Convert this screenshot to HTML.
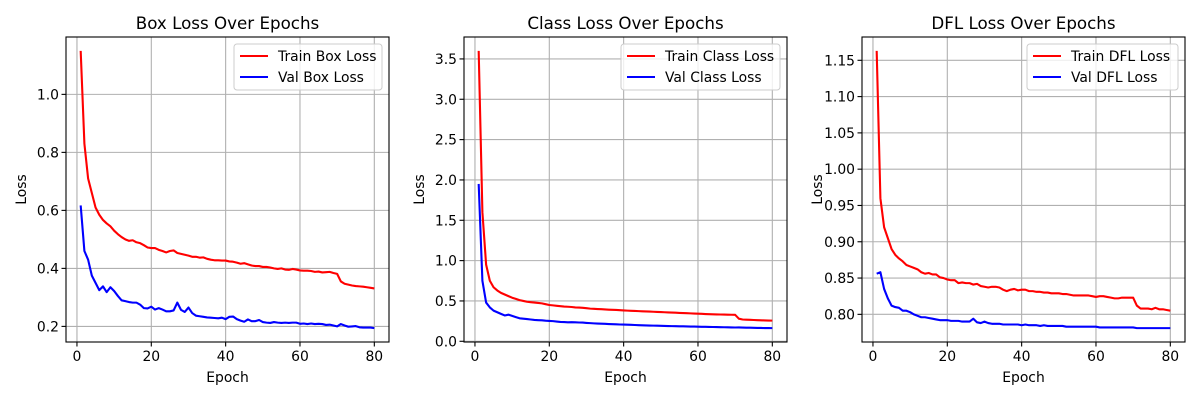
<!DOCTYPE html>
<html><head><meta charset="utf-8"><style>
html,body{margin:0;padding:0;background:#fff;}
svg{display:block;font-family:"DejaVu Sans","Liberation Sans",sans-serif;}
</style></head><body>
<svg id="fig" width="1200" height="400" xmlns="http://www.w3.org/2000/svg"></svg>
<script>
const epochs = Array.from({length:80},(_,i)=>i+1);
const boxTrain = [1.15,0.83,0.71,0.66,0.61,0.585,0.567,0.555,0.545,0.53,0.518,0.508,0.5,0.495,0.497,0.49,0.487,0.48,0.472,0.47,0.47,0.464,0.46,0.455,0.46,0.462,0.453,0.45,0.447,0.444,0.44,0.44,0.437,0.438,0.433,0.43,0.428,0.428,0.427,0.427,0.424,0.423,0.42,0.416,0.418,0.414,0.41,0.408,0.408,0.405,0.405,0.403,0.4,0.398,0.4,0.396,0.395,0.398,0.396,0.393,0.392,0.392,0.391,0.388,0.389,0.386,0.387,0.388,0.384,0.381,0.355,0.347,0.344,0.341,0.339,0.338,0.337,0.335,0.333,0.331];
const boxVal = [0.617,0.46,0.43,0.375,0.35,0.325,0.338,0.318,0.335,0.322,0.305,0.29,0.287,0.284,0.282,0.282,0.275,0.263,0.262,0.268,0.258,0.263,0.258,0.252,0.252,0.255,0.282,0.257,0.25,0.265,0.246,0.237,0.235,0.233,0.231,0.23,0.229,0.228,0.23,0.225,0.233,0.234,0.225,0.22,0.216,0.224,0.218,0.218,0.222,0.215,0.213,0.212,0.215,0.213,0.212,0.213,0.212,0.213,0.213,0.209,0.21,0.208,0.21,0.208,0.209,0.208,0.205,0.206,0.203,0.2,0.208,0.203,0.199,0.2,0.201,0.197,0.196,0.196,0.196,0.194];
const clsTrain = [3.6,1.6,0.95,0.75,0.67,0.63,0.6,0.58,0.56,0.54,0.525,0.51,0.5,0.49,0.485,0.48,0.475,0.47,0.46,0.45,0.445,0.44,0.435,0.43,0.428,0.425,0.42,0.418,0.415,0.41,0.405,0.403,0.4,0.398,0.395,0.392,0.39,0.388,0.385,0.382,0.38,0.378,0.376,0.374,0.372,0.37,0.368,0.366,0.364,0.362,0.36,0.358,0.356,0.354,0.352,0.35,0.348,0.346,0.344,0.342,0.34,0.338,0.336,0.334,0.333,0.332,0.331,0.33,0.329,0.328,0.28,0.27,0.268,0.266,0.264,0.262,0.26,0.258,0.257,0.256];
const clsVal = [1.95,0.75,0.48,0.42,0.38,0.36,0.34,0.32,0.33,0.315,0.3,0.285,0.28,0.275,0.27,0.265,0.262,0.26,0.255,0.252,0.25,0.245,0.24,0.238,0.235,0.237,0.235,0.233,0.232,0.228,0.225,0.222,0.22,0.218,0.216,0.214,0.212,0.21,0.208,0.207,0.206,0.204,0.202,0.2,0.198,0.196,0.195,0.194,0.193,0.192,0.19,0.189,0.188,0.187,0.186,0.185,0.184,0.183,0.182,0.181,0.18,0.179,0.178,0.177,0.176,0.175,0.174,0.173,0.172,0.171,0.172,0.17,0.169,0.168,0.167,0.166,0.165,0.164,0.164,0.163];
const dflTrain = [1.163,0.96,0.92,0.905,0.89,0.882,0.877,0.873,0.868,0.866,0.864,0.862,0.858,0.856,0.857,0.855,0.855,0.851,0.85,0.848,0.847,0.847,0.843,0.844,0.843,0.843,0.841,0.842,0.839,0.838,0.837,0.838,0.838,0.837,0.834,0.832,0.834,0.835,0.833,0.834,0.834,0.832,0.832,0.831,0.831,0.83,0.83,0.829,0.829,0.829,0.828,0.828,0.827,0.826,0.826,0.826,0.826,0.826,0.825,0.824,0.825,0.825,0.824,0.823,0.822,0.822,0.823,0.823,0.823,0.823,0.812,0.808,0.808,0.808,0.807,0.809,0.807,0.807,0.806,0.805];
const dflVal = [0.856,0.858,0.835,0.822,0.812,0.81,0.809,0.805,0.805,0.803,0.8,0.798,0.796,0.796,0.795,0.794,0.793,0.792,0.792,0.792,0.791,0.791,0.791,0.79,0.79,0.79,0.794,0.789,0.788,0.79,0.788,0.787,0.787,0.787,0.786,0.786,0.786,0.786,0.786,0.785,0.786,0.785,0.785,0.785,0.784,0.785,0.784,0.784,0.784,0.784,0.784,0.783,0.783,0.783,0.783,0.783,0.783,0.783,0.783,0.783,0.782,0.782,0.782,0.782,0.782,0.782,0.782,0.782,0.782,0.782,0.781,0.781,0.781,0.781,0.781,0.781,0.781,0.781,0.781,0.781];
const xTicks = [0,20,40,60,80];
const boxTicks = ["0.2","0.4","0.6","0.8","1.0"];
const clsTicks = ["0.0","0.5","1.0","1.5","2.0","2.5","3.0","3.5"];
const dflTicks = ["0.80","0.85","0.90","0.95","1.00","1.05","1.10","1.15"];

const NS="http://www.w3.org/2000/svg";
const svg=document.getElementById('fig');
function mk(tag,attrs,parent){const e=document.createElementNS(NS,tag);for(const k in attrs)e.setAttribute(k,attrs[k]);(parent||svg).appendChild(e);return e;}

function panel(key,box,title,train,val,yTicks,trainLbl,valLbl,legendW){
  const [L,T,R,B]=box;
  const g=mk('g',{});
  
  
  const xmin=1-0.05*79, xmax=80+0.05*79;
  const all=train.concat(val);
  const dmin=Math.min(...all), dmax=Math.max(...all), pad=0.05*(dmax-dmin);
  const ymin=dmin-pad, ymax=dmax+pad;
  const sx=v=>L+(v-xmin)/(xmax-xmin)*(R-L);
  const sy=v=>B-(v-ymin)/(ymax-ymin)*(B-T);
  xTicks.forEach(t=>{
    const x=sx(t);
    const gl=mk('line',{x1:x,x2:x,y1:T,y2:B,stroke:'#b0b0b0','stroke-width':1.1},g);
    
    
    mk('line',{x1:x,x2:x,y1:B,y2:B+4.5,stroke:'#000','stroke-width':1.1},g);
    const tx=mk('text',{x:x,y:B+19,'font-size':'13.9px','text-anchor':'middle'},g);
    tx.textContent=t;
    
    
  });
  yTicks.forEach(t=>{
    const y=sy(parseFloat(t));
    const gl=mk('line',{x1:L,x2:R,y1:y,y2:y,stroke:'#b0b0b0','stroke-width':1.1},g);
    
    
    mk('line',{x1:L-4.5,x2:L,y1:y,y2:y,stroke:'#000','stroke-width':1.1},g);
    const tx=mk('text',{x:L-7,y:y+5,'font-size':'13.9px','text-anchor':'end'},g);
    tx.textContent=t;
    
    
  });
  const line=(arr,color,name)=>{
    const p=mk('polyline',{points:arr.map((v,i)=>sx(epochs[i])+','+sy(v)).join(' '),fill:'none',stroke:color,'stroke-width':2.1,'stroke-linejoin':'round'},g);
    
    
  };
  line(train,'#ff0000',key+'-train-line');
  line(val,'#0000ff',key+'-val-line');
  const fr=mk('rect',{x:L,y:T,width:R-L,height:B-T,fill:'none',stroke:'#000','stroke-width':1.1},g);
  
  
  const tt=mk('text',{x:(L+R)/2,y:T-8,'font-size':'16.7px','text-anchor':'middle'},g);
  tt.textContent=title;
  
  
  const xl=mk('text',{x:(L+R)/2,y:B+40,'font-size':'13.9px','text-anchor':'middle'},g);
  xl.textContent='Epoch';
  
  
  const yx=L-40, yy=(T+B)/2;
  const yl=mk('text',{x:yx,y:yy,'font-size':'13.9px','text-anchor':'middle',transform:'rotate(-90 '+yx+' '+yy+')'},g);
  yl.textContent='Loss';
  
  
  const lx=R-7-legendW, ly=T+7;
  const lg=mk('g',{},g);
  
  
  mk('rect',{x:lx,y:ly,width:legendW,height:46,rx:3,fill:'#fff','fill-opacity':0.8,stroke:'#cccccc','stroke-width':1},lg);
  [[trainLbl,'#ff0000'],[valLbl,'#0000ff']].forEach((e,i)=>{
    const y=ly+12+i*21;
    mk('line',{x1:lx+6,x2:lx+34,y1:y,y2:y,stroke:e[1],'stroke-width':2.1},lg);
    const t=mk('text',{x:lx+44,y:y+5,'font-size':'13.9px'},lg);
    t.textContent=e[0];
    
    
  });
}
panel('box',[66,37,389,342],'Box Loss Over Epochs',boxTrain,boxVal,boxTicks,'Train Box Loss','Val Box Loss',148);
panel('class',[464,37,787,342],'Class Loss Over Epochs',clsTrain,clsVal,clsTicks,'Train Class Loss','Val Class Loss',159);
panel('dfl',[862,37,1185,342],'DFL Loss Over Epochs',dflTrain,dflVal,dflTicks,'Train DFL Loss','Val DFL Loss',151);
</script>
</body></html>
